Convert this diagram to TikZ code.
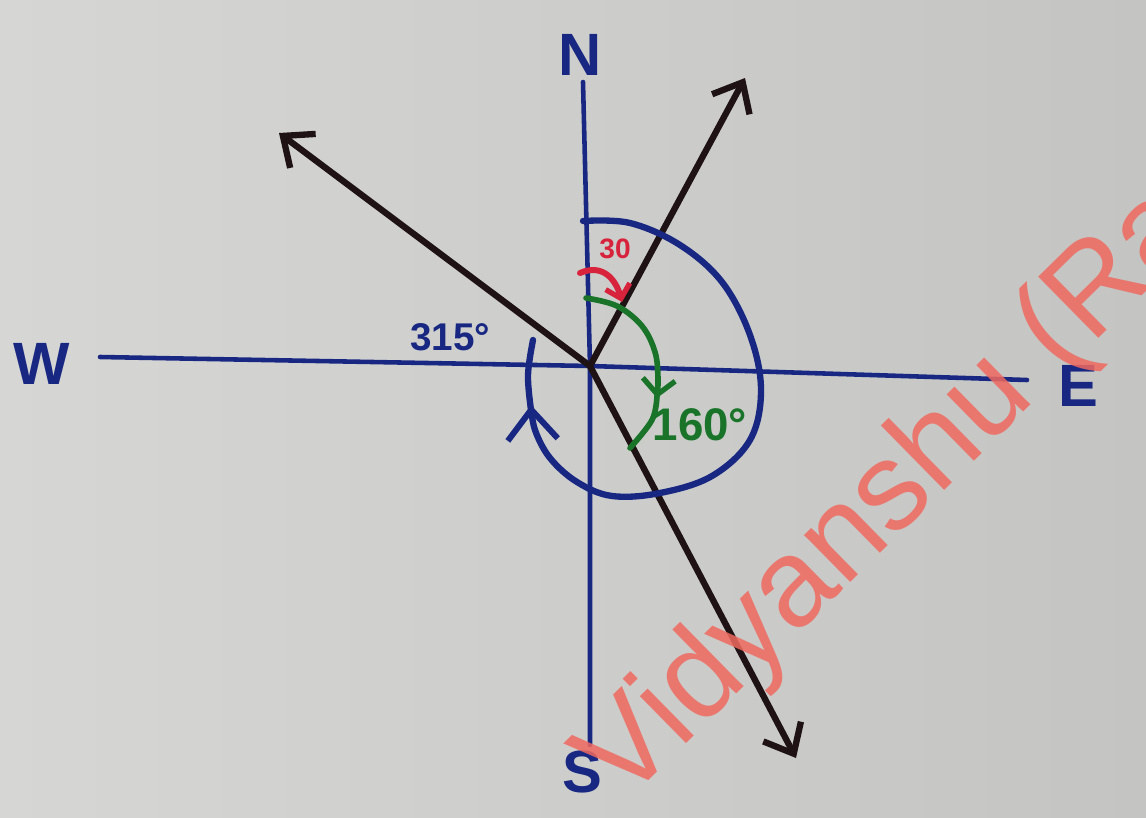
\documentclass[tikz,border=0pt]{standalone}
\usepackage{fontspec}
\setmainfont{Liberation Sans}
\usetikzlibrary{arrows.meta}
\definecolor{paper}{RGB}{204,204,202}
\definecolor{paperlight}{RGB}{214,214,212}
\definecolor{paperdark}{RGB}{196,196,194}
\definecolor{ink}{RGB}{24,40,130}
\definecolor{blk}{RGB}{30,18,20}
\definecolor{rink}{RGB}{215,35,60}
\definecolor{gink}{RGB}{25,115,40}
\definecolor{wmark}{RGB}{240,105,95}
\tikzset{
  axisline/.style={ink, line width=2.6pt, line cap=round},
  vector/.style={blk, line width=3.6pt, line cap=round, -{Straight Barb[length=0.5cm,width=0.85cm,line width=3.6pt]}},
  bluearc/.style={ink, line width=3.6pt, line cap=round},
  greenarc/.style={gink, line width=3.2pt, line cap=round},
  redarc/.style={rink, line width=3.4pt, line cap=round},
  dirlabel/.style={ink, font=\fontsize{34}{36}\selectfont\bfseries, inner sep=0pt},
  anglabel/.style={inner sep=0pt, font=\bfseries},
}
\begin{document}
\begin{tikzpicture}[x=0.02cm,y=-0.02cm]
\useasboundingbox (0,0) rectangle (1146,818);
\shade[left color=paperlight, right color=paperdark] (0,0) rectangle (1146,818);
\clip (0,0) rectangle (1146,818);
% axes
\coordinate (c) at (590,366);
\coordinate (ntop) at (583,82);
\coordinate (sbot) at (590,745);
\coordinate (wend) at (100,357);
\coordinate (eend) at (1027,380);
\draw[axisline] (ntop) -- (c) -- (sbot);
\draw[axisline] (wend) -- (c) -- (eend);
% direction labels
\node[dirlabel] (N) at (580,55) {N};
\node[dirlabel] (W) at (42,364) {W};
\node[dirlabel] (E) at (1078,386) {E};
\node[dirlabel] (S) at (582,772) {S};
% vectors
\coordinate (ne) at (745,78);
\coordinate (nw) at (279,133);
\coordinate (se) at (796,758);
\draw[vector] (c) -- (ne);
\draw[vector] (c) -- (nw);
\draw[vector] (c) -- (se);
% blue 315 arc (clockwise from N)
\draw[bluearc, -{Straight Barb[length=0.6cm,width=1.0cm,line width=3.4pt]}] plot[smooth, tension=0.6] coordinates {
 (583,221) (630,223) (680,245) (722,282) (750,335) (761,390) (750,440) (712,476) (660,493) (612,496) (577,482) (550,458) (535,430) (531,405)};
\draw[bluearc] plot[smooth, tension=0.6] coordinates {(531,410) (528,375) (533,340)};
% green 160 arc
\draw[greenarc, -{Straight Barb[length=0.3cm,width=0.65cm,line width=3pt]}] plot[smooth, tension=0.6] coordinates {
 (586,298) (617,306) (642,326) (655,352) (658,378) (657,398)};
\draw[greenarc] plot[smooth, tension=0.6] coordinates {(657,396) (652,420) (630,448)};
% red 30 arc
\draw[redarc, -{Straight Barb[length=0.25cm,width=0.5cm,line width=3pt]}] (580,273) .. controls (603,263) and (616,280) .. (622,302);
% angle labels
\node[anglabel, ink, font=\fontsize{22}{24}\selectfont\bfseries] (l315) at (450,337) {315°};
\node[anglabel, gink, font=\fontsize{26}{28}\selectfont\bfseries] (l160) at (700,425) {160°};
\node[anglabel, rink, font=\fontsize{16}{18}\selectfont\bfseries] (l30) at (615,249) {30};
% watermark
\node[wmark, opacity=0.85, rotate=44.5, anchor=base west, inner sep=0pt, font=\fontsize{71}{76}\selectfont] (wm) at (623,806) {Vidyanshu (Ra};
\end{tikzpicture}
\end{document}
